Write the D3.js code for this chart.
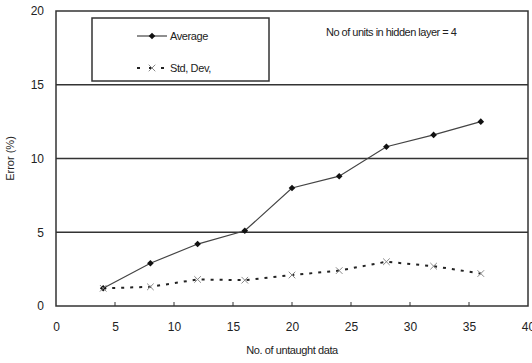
<!DOCTYPE html>
<html>
<head>
<meta charset="utf-8">
<script src="https://cdn.jsdelivr.net/npm/d3@7"></script>
<style>
  body { margin: 0; background: #fff; }
  text { font-family: "Liberation Sans", Arial, sans-serif; fill: #222; }
</style>
</head>
<body>
<svg id="chart" width="532" height="363"></svg>
<script>
var units = [4, 8, 12, 16, 20, 24, 28, 32, 36];
var average = [1.2, 2.9, 4.2, 5.1, 8.0, 8.8, 10.8, 11.6, 12.5];
var stdDev = [1.2, 1.3, 1.8, 1.75, 2.1, 2.4, 3.0, 2.7, 2.2];
var xTicks = [0, 5, 10, 15, 20, 25, 30, 35, 40];
var yTicks = [0, 5, 10, 15, 20];
var gridValues = [5, 10, 15];

var svg = d3.select("#chart"),
  margin = {top: 11, right: 4, bottom: 57, left: 56},
  width = +svg.attr("width") - margin.left - margin.right,
  height = +svg.attr("height") - margin.top - margin.bottom,
  g = svg.append("g").attr("transform", "translate(" + margin.left + "," + margin.top + ")");

var x = d3.scaleLinear().domain([0, 40]).range([0, width]);
var y = d3.scaleLinear().domain([0, 20]).range([height, 0]);

// gridlines
g.selectAll(".grid")
  .data(gridValues)
  .enter().append("line")
  .attr("x1", 0)
  .attr("x2", width)
  .attr("y1", function(d) { return y(d); })
  .attr("y2", function(d) { return y(d); })
  .attr("stroke", "#333")
  .attr("stroke-width", 1.5);

// frame
g.append("rect")
  .attr("width", width)
  .attr("height", height)
  .attr("fill", "none")
  .attr("stroke", "#333")
  .attr("stroke-width", 1.5);

// x axis
var xAxis = g.append("g")
  .attr("transform", "translate(0," + height + ")")
  .call(d3.axisBottom(x).tickValues(xTicks).tickSize(0).tickPadding(16));
xAxis.select(".domain").remove();
xAxis.selectAll("text").style("font-size", "12px").attr("fill", "#222");

g.selectAll(".xtick")
  .data(xTicks.slice(1, -1))
  .enter().append("line")
  .attr("x1", function(d) { return x(d); })
  .attr("x2", function(d) { return x(d); })
  .attr("y1", height)
  .attr("y2", height - 4)
  .attr("stroke", "#333");

// y axis
var yAxis = g.append("g")
  .call(d3.axisLeft(y).tickValues(yTicks).tickSize(0).tickPadding(12));
yAxis.select(".domain").remove();
yAxis.selectAll("text").style("font-size", "12px").attr("fill", "#222");

// axis titles
g.append("text")
  .attr("x", width / 2)
  .attr("y", height + 48)
  .attr("text-anchor", "middle")
  .style("font-size", "11px")
  .style("letter-spacing", "-0.4px")
  .text("No. of untaught data");

g.append("text")
  .attr("transform", "translate(" + (-42) + "," + (height / 2) + ") rotate(-90)")
  .attr("text-anchor", "middle")
  .style("font-size", "11px")
  .text("Error (%)");

// lines
var avgData = units.map(function(u, i) { return [u, average[i]]; });
var stdData = units.map(function(u, i) { return [u, stdDev[i]]; });

var line = d3.line()
  .x(function(d) { return x(d[0]); })
  .y(function(d) { return y(d[1]); });

g.append("path")
  .datum(avgData)
  .attr("d", line)
  .attr("fill", "none")
  .attr("stroke", "#444")
  .attr("stroke-width", 1.2);

g.append("path")
  .datum(stdData)
  .attr("d", line)
  .attr("fill", "none")
  .attr("stroke", "#222")
  .attr("stroke-width", 2)
  .attr("stroke-dasharray", "3,6");

// markers
var diamond = d3.symbol().type(d3.symbolSquare).size(22);
g.selectAll(".avgpt")
  .data(avgData)
  .enter().append("path")
  .attr("d", diamond)
  .attr("transform", function(d) { return "translate(" + x(d[0]) + "," + y(d[1]) + ") rotate(45)"; })
  .attr("fill", "#111");

var cross = d3.symbol().type(d3.symbolX).size(30);
g.selectAll(".stdpt")
  .data(stdData)
  .enter().append("path")
  .attr("d", cross)
  .attr("transform", function(d) { return "translate(" + x(d[0]) + "," + y(d[1]) + ")"; })
  .attr("fill", "none")
  .attr("stroke", "#888")
  .attr("stroke-width", 1);

// legend
var lg = svg.append("g").attr("transform", "translate(92,18)");
lg.append("rect")
  .attr("width", 177)
  .attr("height", 63)
  .attr("fill", "#fff")
  .attr("stroke", "#333")
  .attr("stroke-width", 1.5);

lg.append("line").attr("x1", 45).attr("x2", 75).attr("y1", 18).attr("y2", 18)
  .attr("stroke", "#444").attr("stroke-width", 1.2);
lg.append("path").attr("d", diamond).attr("transform", "translate(60,18) rotate(45)").attr("fill", "#111");
lg.append("text").attr("x", 78).attr("y", 18).attr("dy", "0.35em")
  .style("font-size", "11px").style("letter-spacing", "-0.4px").text("Average");

lg.append("line").attr("x1", 45).attr("x2", 75).attr("y1", 50).attr("y2", 50)
  .attr("stroke", "#222").attr("stroke-width", 2).attr("stroke-dasharray", "3,9");
lg.append("path").attr("d", cross).attr("transform", "translate(60,50)")
  .attr("fill", "none").attr("stroke", "#888");
lg.append("text").attr("x", 78).attr("y", 50).attr("dy", "0.35em")
  .style("font-size", "11px").style("letter-spacing", "-0.4px").text("Std, Dev,");

// annotation
svg.append("text")
  .attr("x", 326)
  .attr("y", 32)
  .attr("dy", "0.35em")
  .style("font-size", "11px")
  .style("letter-spacing", "-0.5px")
  .text("No of units in hidden layer = 4");
</script>
</body>
</html>
